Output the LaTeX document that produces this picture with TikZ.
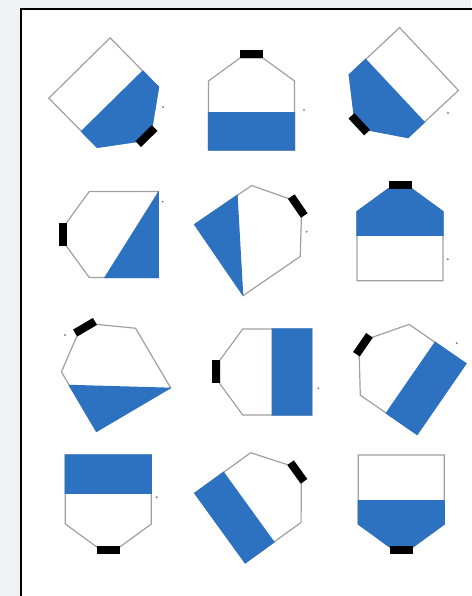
\documentclass[tikz,border=0pt]{standalone}
\definecolor{bg}{RGB}{238,242,244}
\definecolor{water}{RGB}{44,114,193}
\definecolor{edge}{RGB}{160,160,160}
\definecolor{speck}{RGB}{130,130,130}
\newcommand{\btlpath}[1]{\path[#1] (-43,0) -- (43,0) -- (43,69) -- (11.5,92) -- (-11.5,92) -- (-43,69) -- cycle;}
\newcommand{\bottle}[4]{%
  \begin{scope}[shift={(#1,#2)},rotate=#3]
    \btlpath{draw=edge,fill=white,line width=1.2pt}
    \begin{scope}
      \clip #4;
      \btlpath{draw=water,fill=water,line width=1.2pt}
    \end{scope}
    \fill[black] (-11.5,91.5) rectangle (11.5,99.5);
  \end{scope}}
\tikzset{speckdot/.style={fill=speck,draw=none}}
\begin{document}
\begin{tikzpicture}[x=1pt,y=1pt]
\useasboundingbox (0,0) rectangle (471,596);
\fill[bg] (0,0) rectangle (471,596);
\fill[white] (21,0) rectangle (471,587);
\draw[black,line width=1.6pt] (21,0) -- (21,587) -- (471.5,587);
% row 1
\bottle{79.5}{528}{-135.5}{(-60,46) rectangle (60,110)}
\bottle{251.5}{446}{0}{(-60,-10) rectangle (60,37)}
\bottle{429}{537}{133.1}{(-60,46) rectangle (60,110)}
% row 2
\bottle{158.3}{361.5}{90}{(60,-10.7) -- (-60,64.7) -- (-60,-20) -- (60,-20) -- cycle}
\bottle{219}{336}{-55.6}{(60,-10.3) -- (-60,62.3) -- (-60,-20) -- (60,-20) -- cycle}
\bottle{400}{315.3}{0}{(-60,45) rectangle (60,110)}
% row 3
\bottle{133.5}{186.5}{30.5}{(60,-10.7) -- (-60,64.7) -- (-60,-20) -- (60,-20) -- cycle}
\bottle{311.7}{224}{90}{(-60,-10) rectangle (60,40)}
\bottle{441.5}{197}{55.4}{(-60,-10) rectangle (60,38)}
% row 4
\bottle{108.3}{141}{180}{(-60,-10) rectangle (60,39)}
\bottle{220}{68}{-54.1}{(-60,-10) rectangle (60,36)}
\bottle{401.3}{141}{180}{(-60,46) rectangle (60,110)}
% specks
\foreach \px/\py in {163/489, 304/486, 448/483, 162.7/394.3, 306.7/364.3, 447.7/336.7, 65/261, 318.3/207.7, 456.7/252.7, 156.7/98.7}
  \fill[speckdot] (\px,\py) circle (1.1);
\end{tikzpicture}
\end{document}
